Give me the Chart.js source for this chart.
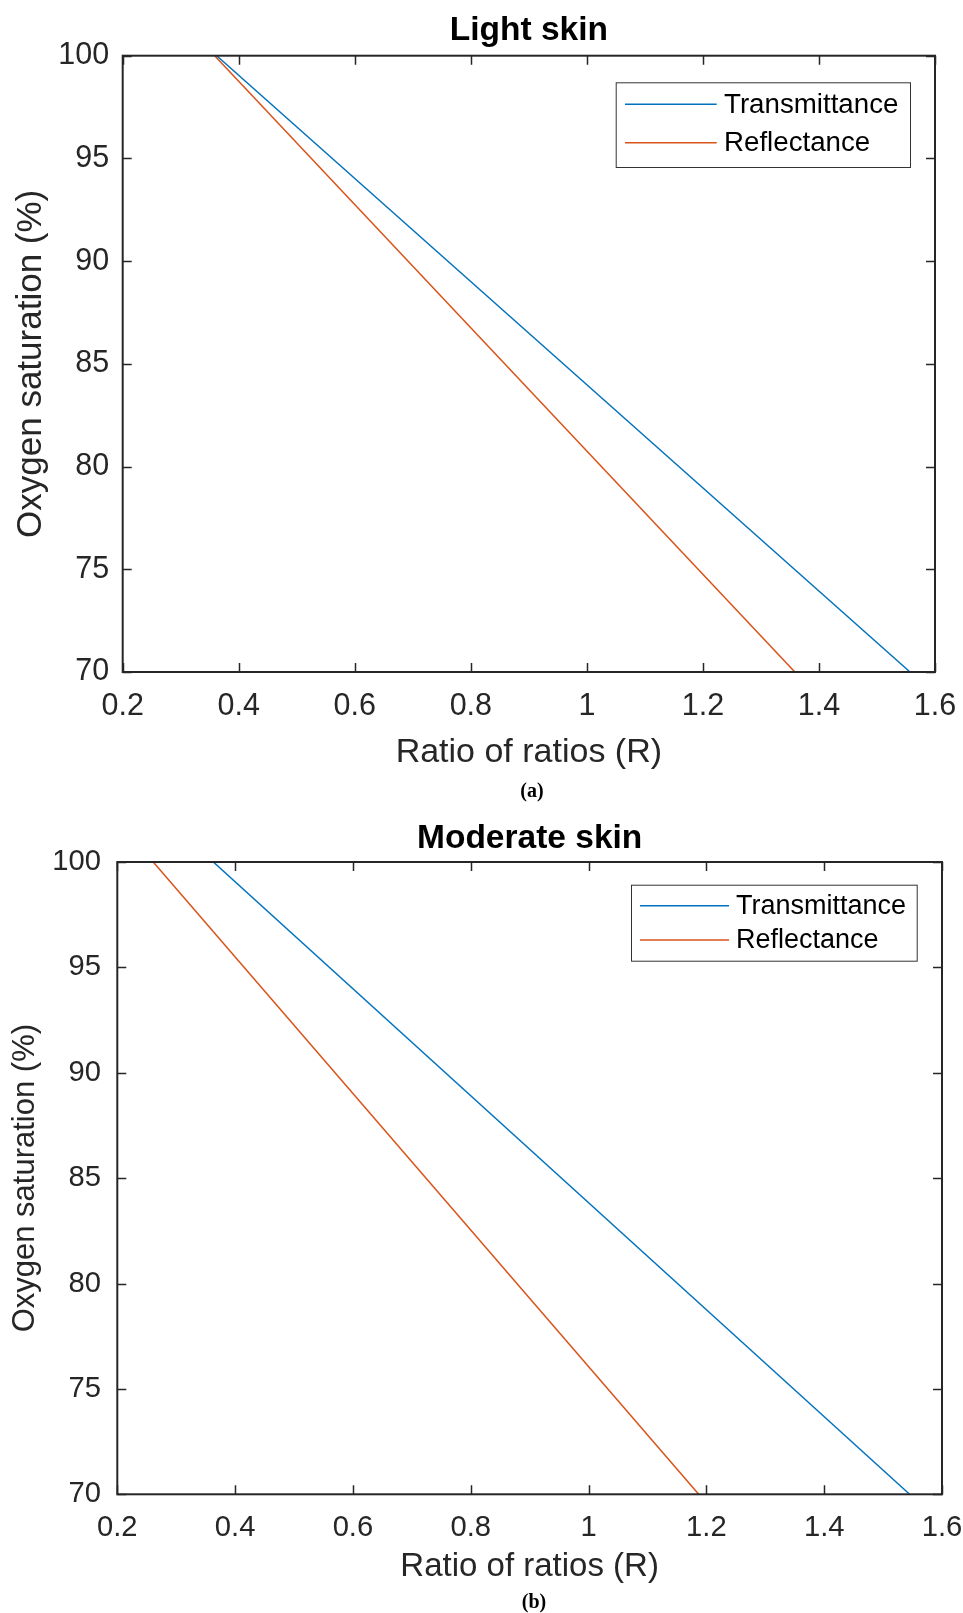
<!DOCTYPE html>
<html><head><meta charset="utf-8">
<script src="https://cdn.jsdelivr.net/npm/chart.js@4"></script>
<style>
html,body{margin:0;padding:0;background:#fff;}
#wrap{position:relative;width:963px;height:1613px;overflow:hidden;background:#fff;}
canvas{position:absolute;left:0;}
.cap{position:absolute;font-family:'Liberation Serif','DejaVu Serif',serif;font-weight:bold;font-size:20px;color:#000;transform:translate(-50%,-50%);white-space:nowrap;}
</style></head><body>
<div id="wrap">
<canvas id="c1" width="963" height="800" style="top:0px"></canvas>
<canvas id="c2" width="963" height="813" style="top:800px"></canvas>
<div class="cap" style="left:532px;top:790px">(a)</div>
<div class="cap" style="left:534px;top:1601px">(b)</div>
</div>
<script>
// ---- data ----
const seriesNames = ['Transmittance', 'Reflectance'];
const xTickValues = [0.2, 0.4, 0.6, 0.8, 1, 1.2, 1.4, 1.6];
const xTickLabels = ['0.2', '0.4', '0.6', '0.8', '1', '1.2', '1.4', '1.6'];
const yTickValues = [70, 75, 80, 85, 90, 95, 100];
const yTickLabels = ['70', '75', '80', '85', '90', '95', '100'];
const spo2Ends = [100, 70];
const lightTransR = [0.362, 1.557];
const lightReflR = [0.3585, 1.3585];
const moderateTransR = [0.363, 1.545];
const moderateReflR = [0.261, 1.187];
const chartTitles = ['Light skin', 'Moderate skin'];
const xTitle = 'Ratio of ratios (R)';
const yTitle = 'Oxygen saturation (%)';
// ---- end data ----

const FONT = "'Liberation Sans', Arial, Helvetica, sans-serif";
Chart.defaults.font.family = FONT;
const BLUE = '#0072BD', ORANGE = '#D95319', AX = '#262626';

const pts = (rs) => rs.map((r, i) => ({x: r, y: spo2Ends[i]}));

const boxPlugin = {
  id: 'matlabBox',
  afterDatasetsDraw(chart, args, o) {
    const {ctx, chartArea: a, scales: {x, y}} = chart;
    ctx.save();
    ctx.strokeStyle = AX;
    ctx.lineWidth = 1.5;
    ctx.beginPath();
    x.ticks.forEach(t => {
      const px = Math.round(x.getPixelForValue(t.value)) + 0.5;
      ctx.moveTo(px, a.bottom); ctx.lineTo(px, a.bottom - o.tick);
      ctx.moveTo(px, a.top); ctx.lineTo(px, a.top + o.tick);
    });
    y.ticks.forEach(t => {
      const py = Math.round(y.getPixelForValue(t.value)) + 0.5;
      ctx.moveTo(a.left, py); ctx.lineTo(a.left + o.tick, py);
      ctx.moveTo(a.right, py); ctx.lineTo(a.right - o.tick, py);
    });
    ctx.stroke();
    ctx.lineWidth = 2;
    ctx.strokeRect(a.left, a.top, a.right - a.left, a.bottom - a.top);
    const L = o.legend;
    ctx.fillStyle = '#fff';
    ctx.fillRect(L.x, L.y, L.w, L.h);
    ctx.lineWidth = 1;
    ctx.strokeStyle = '#333';
    ctx.strokeRect(L.x + 0.5, L.y + 0.5, L.w, L.h);
    chart.data.datasets.forEach((ds, i) => {
      const ly = L.y + L.row0 + i * L.gap;
      ctx.strokeStyle = ds.borderColor;
      ctx.lineWidth = 1.5;
      ctx.beginPath();
      ctx.moveTo(L.x + L.lx0, ly); ctx.lineTo(L.x + L.lx1, ly);
      ctx.stroke();
      ctx.fillStyle = '#000';
      ctx.font = L.font + 'px ' + FONT;
      ctx.textBaseline = 'middle';
      ctx.textAlign = 'left';
      ctx.fillText(ds.label, L.x + L.tx, ly + 1);
    });
    ctx.restore();
  }
};

function makeChart(id, title, transR, reflR, g) {
  return new Chart(document.getElementById(id), {
    type: 'scatter',
    data: {
      datasets: [
        {label: seriesNames[0], data: pts(transR), showLine: true, borderColor: BLUE, backgroundColor: BLUE, borderWidth: 1.5, pointRadius: 0, fill: false},
        {label: seriesNames[1], data: pts(reflR), showLine: true, borderColor: ORANGE, backgroundColor: ORANGE, borderWidth: 1.5, pointRadius: 0, fill: false}
      ]
    },
    options: {
      responsive: false,
      animation: false,
      events: [],
      layout: {padding: {left: 0, top: 0, right: g.padRight, bottom: 0}},
      plugins: {
        legend: {display: false},
        tooltip: {enabled: false},
        title: {display: true, fullSize: false, text: title, color: '#000', font: {size: g.titleFont, weight: 'bold'}, padding: {top: g.titleTop, bottom: g.titleBottom}},
        matlabBox: {tick: 9, legend: g.legend}
      },
      scales: {
        x: {
          type: 'linear', min: 0.2, max: 1.6,
          afterBuildTicks: s => { s.ticks = xTickValues.map(v => ({value: v})); },
          afterFit: s => { s.height = g.xHeight; s.paddingLeft = 0; s.paddingRight = 0; },
          ticks: {callback: v => xTickLabels[xTickValues.indexOf(v)], padding: g.xPad, font: {size: g.tickFont}, color: AX, maxRotation: 0, autoSkip: false},
          grid: {display: false, drawTicks: false},
          border: {display: false},
          title: {display: true, text: xTitle, color: AX, font: {size: g.xTitleFont}, padding: {top: 0, bottom: g.xTitleBottom}}
        },
        y: {
          type: 'linear', min: 70, max: 100,
          afterBuildTicks: s => { s.ticks = yTickValues.map(v => ({value: v})); },
          afterFit: s => { s.width = g.yWidth; s.paddingTop = 0; s.paddingBottom = 0; },
          ticks: {callback: v => yTickLabels[yTickValues.indexOf(v)], padding: g.yPad, font: {size: g.tickFont}, color: AX, autoSkip: false},
          grid: {display: false, drawTicks: false},
          border: {display: false},
          title: {display: true, text: yTitle, color: AX, font: {size: g.yTitleFont}, padding: {top: g.yTitleTop, bottom: 0}}
        }
      }
    },
    plugins: [boxPlugin]
  });
}

makeChart('c1', chartTitles[0], lightTransR, lightReflR, {
  padRight: 28, titleFont: 33.5, titleTop: 10.9, titleBottom: 4.6,
  tickFont: 30.5, xHeight: 128, xPad: 16.5, xTitleFont: 34, xTitleBottom: 26.6,
  yWidth: 122.7, yPad: 13.5, yTitleFont: 35, yTitleTop: 9.9,
  legend: {x: 615.7, y: 82.3, w: 294.3, h: 84.7, lx0: 9.3, lx1: 101, row0: 22, gap: 38.4, tx: 108.3, font: 27.7}
});
makeChart('c2', chartTitles[1], moderateTransR, moderateReflR, {
  padRight: 21, titleFont: 33.5, titleTop: 18.4, titleBottom: 3.4,
  tickFont: 29.2, xHeight: 118.7, xPad: 15.7, xTitleFont: 33, xTitleBottom: 26.6,
  yWidth: 117.3, yPad: 16.3, yTitleFont: 31, yTitleTop: 6.5,
  legend: {x: 631, y: 84.7, w: 285.7, h: 76, lx0: 9, lx1: 98, row0: 21, gap: 34.3, tx: 105, font: 27}
});
</script>
</body></html>
